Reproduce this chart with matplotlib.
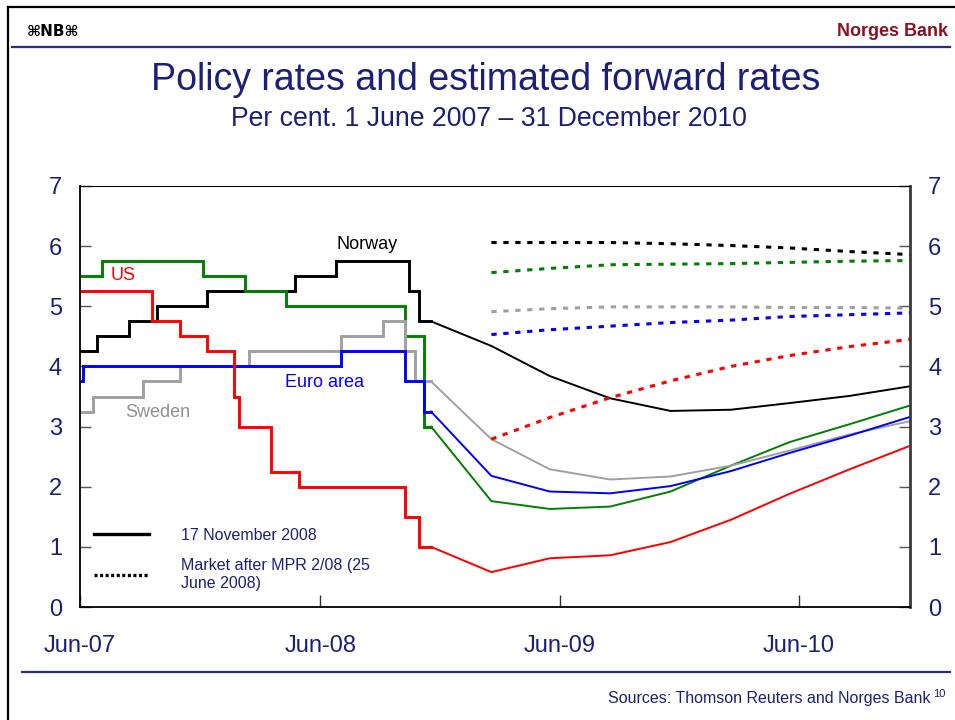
import matplotlib
matplotlib.use("Agg")
import matplotlib.pyplot as plt
from matplotlib.lines import Line2D
import pandas as pd

plt.rcParams["font.family"] = ["Liberation Sans", "DejaVu Sans"]
plt.rcParams["lines.scale_dashes"] = False

# ---- policy rates (step series), change dates and levels ----
norway_dates = ["2007-06-01", "2007-06-27", "2007-08-15", "2007-09-26", "2007-12-12",
                "2008-04-23", "2008-06-25", "2008-10-15", "2008-10-29", "2008-11-17"]
norway_rates = [4.25, 4.5, 4.75, 5.0, 5.25, 5.5, 5.75, 5.25, 4.75, 4.75]

us_dates = ["2007-06-01", "2007-09-18", "2007-10-31", "2007-12-11", "2008-01-22",
            "2008-01-30", "2008-03-18", "2008-04-30", "2008-10-08", "2008-10-29", "2008-11-17"]
us_rates = [5.25, 4.75, 4.5, 4.25, 3.5, 3.0, 2.25, 2.0, 1.5, 1.0, 1.0]

euro_dates = ["2007-06-01", "2007-06-05", "2008-07-03", "2008-10-08", "2008-11-06", "2008-11-17"]
euro_rates = [3.75, 4.0, 4.25, 3.75, 3.25, 3.25]

uk_dates = ["2007-06-01", "2007-07-05", "2007-12-06", "2008-02-07", "2008-04-10",
            "2008-10-08", "2008-11-06", "2008-11-17"]
uk_rates = [5.5, 5.75, 5.5, 5.25, 5.0, 4.5, 3.0, 3.0]

sweden_dates = ["2007-06-01", "2007-06-21", "2007-09-05", "2007-10-31", "2008-02-13",
                "2008-07-03", "2008-09-05", "2008-10-08", "2008-10-23", "2008-11-17"]
sweden_rates = [3.25, 3.5, 3.75, 4.0, 4.25, 4.5, 4.75, 4.25, 3.75, 3.75]

# ---- estimated forward rates, 17 November 2008 ----
fwd_nov_dates = ["2008-11-17", "2009-02-17", "2009-05-17", "2009-08-17", "2009-11-17",
                 "2010-02-17", "2010-05-17", "2010-08-17", "2010-11-17"]
norway_nov = [4.75, 4.34, 3.84, 3.47, 3.26, 3.28, 3.39, 3.51, 3.67]
us_nov = [1.0, 0.58, 0.81, 0.86, 1.08, 1.45, 1.88, 2.29, 2.68]
euro_nov = [3.25, 2.18, 1.92, 1.89, 2.01, 2.26, 2.56, 2.85, 3.16]
uk_nov = [3.0, 1.76, 1.63, 1.67, 1.92, 2.35, 2.74, 3.04, 3.35]
sweden_nov = [3.75, 2.79, 2.29, 2.12, 2.17, 2.35, 2.60, 2.87, 3.09]

# ---- market forward rates after MPR 2/08 (25 June 2008) ----
fwd_jun_dates = ["2009-02-17", "2009-05-17", "2009-08-17", "2009-11-17",
                 "2010-02-17", "2010-05-17", "2010-08-17", "2010-11-17"]
norway_jun = [6.06, 6.06, 6.06, 6.04, 6.01, 5.97, 5.91, 5.86]
uk_jun = [5.56, 5.63, 5.69, 5.70, 5.71, 5.73, 5.75, 5.76]
sweden_jun = [4.91, 4.96, 4.99, 4.99, 4.99, 4.98, 4.98, 4.97]
euro_jun = [4.53, 4.61, 4.67, 4.73, 4.77, 4.83, 4.86, 4.89]
us_jun = [2.79, 3.15, 3.48, 3.76, 4.00, 4.18, 4.33, 4.45]

tick_dates = ["2007-06-01", "2008-06-01", "2009-06-01", "2010-06-01"]
tick_labels = ["Jun-07", "Jun-08", "Jun-09", "Jun-10"]
y_ticks = [0, 1, 2, 3, 4, 5, 6, 7]

NAVY = "#1c1f7a"
C_NOR, C_US, C_EUR, C_UK, C_SWE = "#000000", "#ff0000", "#0000ff", "#008000", "#a0a0a0"

def d(seq):
    return pd.to_datetime(seq)

fig = plt.figure(figsize=(9.55, 7.2), dpi=100)
ax = fig.add_axes([80 / 955, 113 / 720, 830 / 955, 421 / 720])

series = [
    (norway_dates, norway_rates, norway_nov, norway_jun, C_NOR),
    (uk_dates, uk_rates, uk_nov, uk_jun, C_UK),
    (sweden_dates, sweden_rates, sweden_nov, sweden_jun, C_SWE),
    (euro_dates, euro_rates, euro_nov, euro_jun, C_EUR),
    (us_dates, us_rates, us_nov, us_jun, C_US),
]
DOT = (3.8, 4.8)
for dates, rates, nov, jun, col in series:
    ax.plot(d(dates), rates, drawstyle="steps-post", color=col, lw=2.1,
            solid_joinstyle="miter")
    ax.plot(d(fwd_nov_dates), nov, color=col, lw=1.4)
    ax.plot(d(fwd_jun_dates), jun, color=col, lw=2.2, dashes=DOT,
            dash_capstyle="butt")

# series labels
ax.text(pd.Timestamp("2008-08-11"), 6.03, "Norway", color=C_NOR, fontsize=13,
        ha="center", va="center")
ax.text(pd.Timestamp("2007-08-05"), 5.52, "US", color=C_US, fontsize=13,
        ha="center", va="center")
ax.text(pd.Timestamp("2008-06-08"), 3.73, "Euro area", color=C_EUR, fontsize=13,
        ha="center", va="center")
ax.text(pd.Timestamp("2007-09-28"), 3.23, "Sweden", color="#909090", fontsize=13,
        ha="center", va="center")

# axes limits and ticks
ax.set_xlim(pd.Timestamp("2007-06-01"), pd.Timestamp("2010-11-17"))
ax.set_ylim(0, 7)
ax.set_xticks(d(tick_dates))
ax.set_xticklabels(tick_labels)
ax.set_yticks(y_ticks)
ax.tick_params(axis="y", which="both", direction="in", length=8, width=1,
               color="#555555", left=True, right=True, labelleft=True,
               labelright=True, labelsize=17, labelcolor=NAVY, pad=13)
ax.tick_params(axis="x", direction="in", length=9, width=1, color="#333333",
               labelsize=17, labelcolor=NAVY, pad=20)
ax.spines["left"].set_linewidth(1.3)
ax.spines["bottom"].set_linewidth(1.3)
ax.spines["top"].set_linewidth(0.8)
ax.spines["right"].set_linewidth(2.0)
ax.spines["right"].set_color("#3a3a3a")

# legend
handles = [Line2D([], [], color="black", lw=2.4),
           Line2D([], [], color="black", lw=2.4, dashes=(2.2, 1.8))]
labels = ["17 November 2008", "Market after MPR 2/08 (25\nJune 2008)"]
leg = ax.legend(handles, labels, loc="lower left", bbox_to_anchor=(0.0, 0.005),
                frameon=False, fontsize=11.5, handlelength=3.45, handletextpad=1.95,
                labelspacing=0.95, labelcolor=NAVY)

# titles
fig.text(0.509, 1 - 80 / 720, "Policy rates and estimated forward rates",
         ha="center", va="center", fontsize=27, color=NAVY)
fig.text(0.512, 1 - 119 / 720, "Per cent. 1 June 2007 \u2013 31 December 2010",
         ha="center", va="center", fontsize=19.2, color=NAVY)

# page header / footer
fig.text(27 / 955, 1 - 31 / 720, "\u2318NB\u2318", ha="left", va="center",
         fontsize=11, fontweight="bold", color="black",
         family=["DejaVu Sans"])
fig.text(948 / 955, 1 - 31 / 720, "Norges Bank", ha="right", va="center",
         fontsize=13, fontweight="bold", color="#8b1020")
fig.text(930 / 955, 1 - 698 / 720, "Sources: Thomson Reuters and Norges Bank",
         ha="right", va="center", fontsize=11.5, color=NAVY)
fig.text(933 / 955, 1 - 694 / 720, "10", ha="left", va="center",
         fontsize=8, color=NAVY)

fig.add_artist(Line2D([12 / 955, 950 / 955], [1 - 47 / 720] * 2,
                      color="#2c2c80", lw=1.6))
fig.add_artist(Line2D([22 / 955, 950 / 955], [1 - 672 / 720] * 2,
                      color="#2c2c80", lw=1.6))
fig.add_artist(Line2D([7.5 / 955, 7.5 / 955], [0, 1 - 7 / 720],
                      color="black", lw=1.6))
fig.add_artist(Line2D([7.5 / 955, 1], [1 - 7 / 720] * 2, color="black", lw=1.6))

fig.savefig("out.png", dpi=100)
